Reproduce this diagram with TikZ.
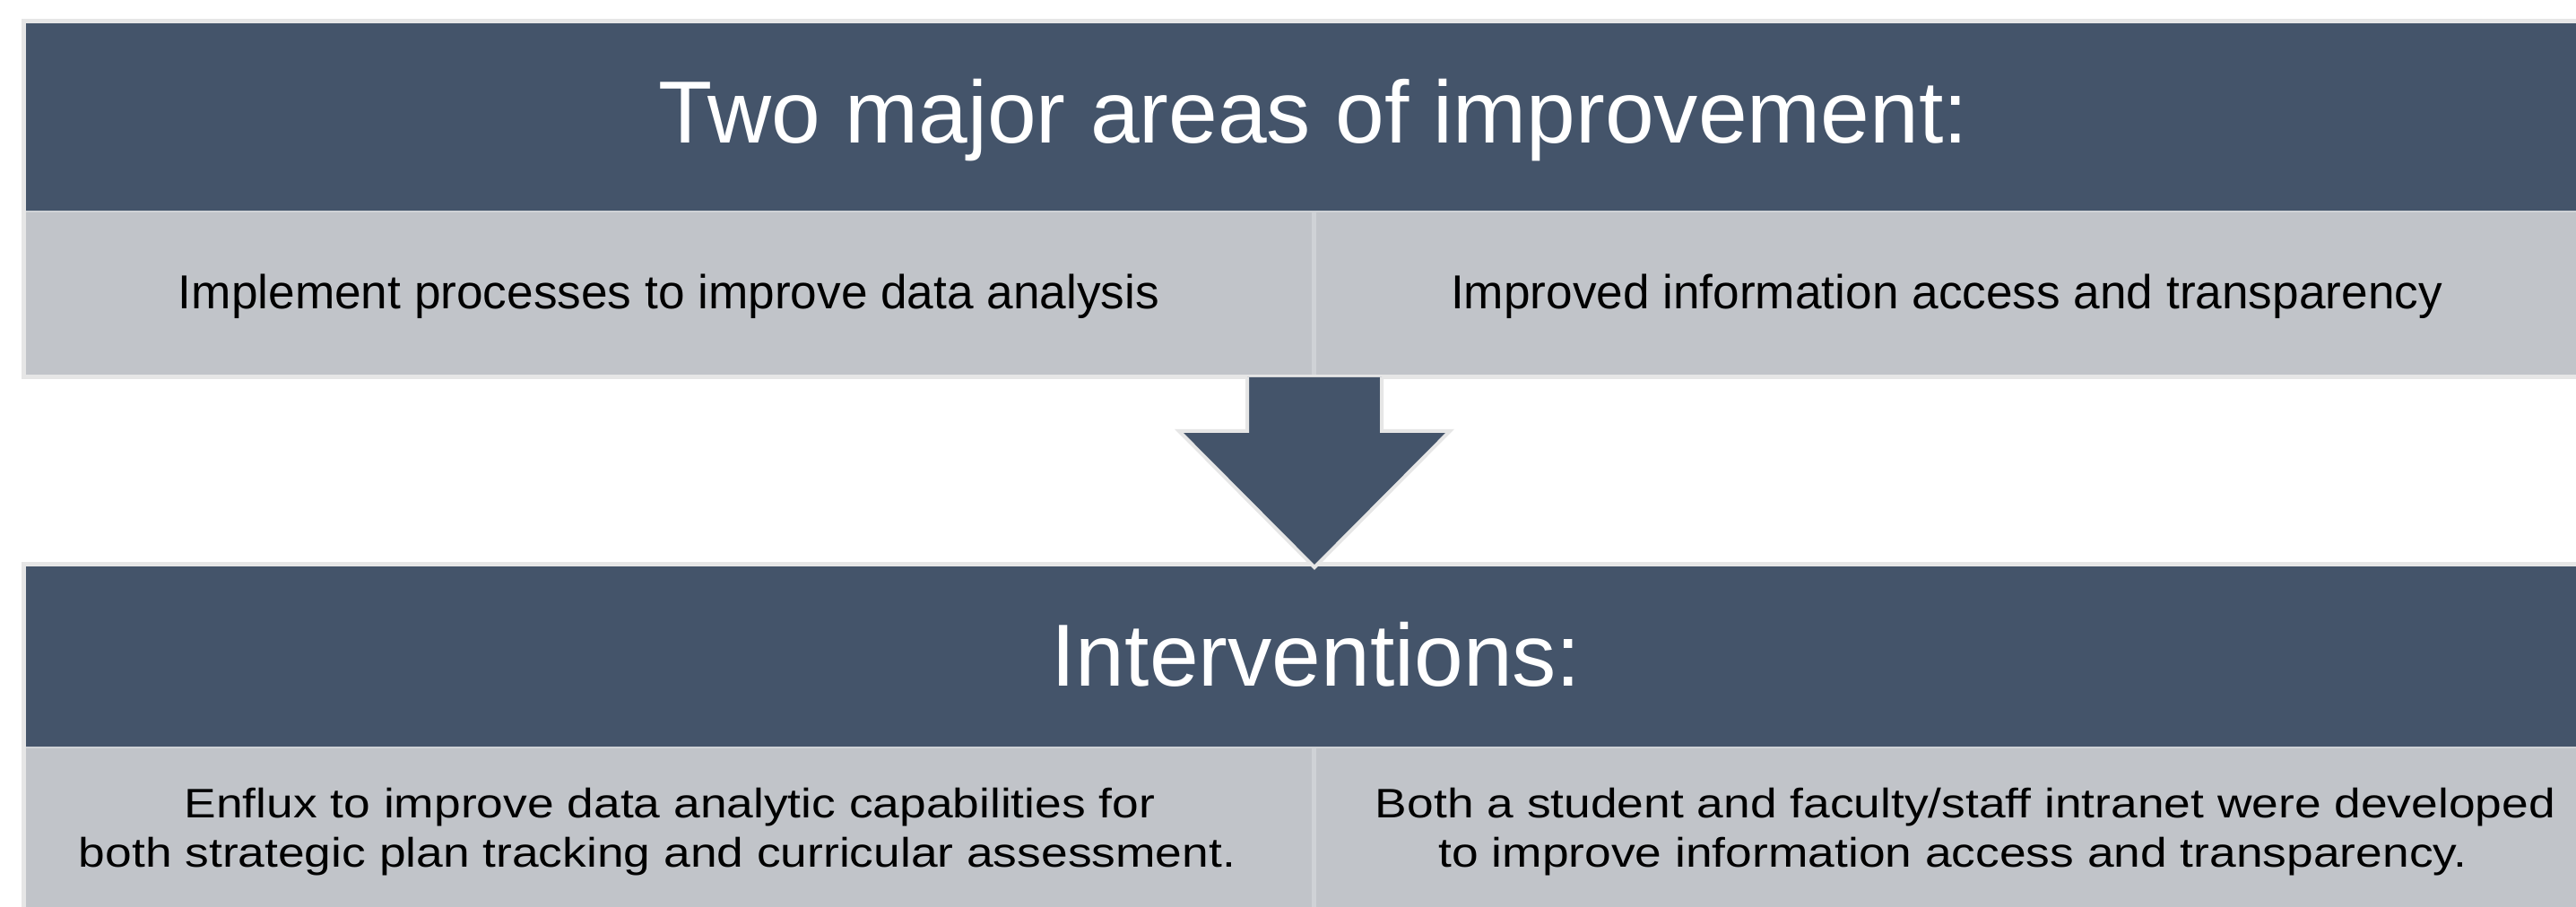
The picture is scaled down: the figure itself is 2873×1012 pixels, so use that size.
\documentclass[tikz,border=0pt]{standalone}
\usepackage{fontspec}
\setmainfont{Liberation Sans}
\newfontfamily\widesans[FakeStretch=1.16]{Liberation Sans}
\definecolor{slate}{HTML}{44546A}
\definecolor{cellgray}{HTML}{C1C4C9}
\definecolor{rim}{HTML}{E6E6E6}
\definecolor{seam}{HTML}{CFD2D6}
\begin{document}
\begin{tikzpicture}[x=0.25pt,y=-0.25pt,
  rimline/.style={draw=rim, line width=1.25pt},
  seamline/.style={draw=seam, line width=1.25pt},
  headtext/.style={inner sep=0pt, text=white, font=\fontsize{24.6pt}{29pt}\selectfont},
  celltext/.style={inner sep=0pt, text=black, font=\fontsize{13.3pt}{16pt}\selectfont},
  bodytext/.style={inner sep=0pt, text=black, align=center, font=\widesans\fontsize{11.5pt}{13.9pt}\selectfont}]
\useasboundingbox (0,0) rectangle (2873,1012);
\clip (0,0) rectangle (2873,1012);
\fill[white] (0,0) rectangle (2873,1012);

% upper block: header band over two cells
\path[rimline, fill=cellgray] (26.5,24) rectangle (2906,420.5);
\fill[slate] (29,26.5) rectangle (2903.5,235);
\draw[seam, line width=0.6pt] (29,236) -- (2903.5,236);
\draw[seamline] (1465.5,236) -- (1465.5,418);

% lower block: header band over two cells
\path[rimline, fill=cellgray] (26.5,629.5) rectangle (2906,1018);
\fill[slate] (29,632) rectangle (2903.5,833);
\draw[seam, line width=0.6pt] (29,834) -- (2903.5,834);
\draw[seamline] (1465.5,834) -- (1465.5,1015);

% block arrow between the two blocks
\fill[slate] (1391,421) -- (1391,481) -- (1315,481) -- (1466,633) -- (1617,481) -- (1541,481) -- (1541,421) -- cycle;
\draw[rim, line width=1pt, line join=miter] (1391,421) -- (1391,481) -- (1315,481) -- (1466,633) -- (1617,481) -- (1541,481) -- (1541,421);

% texts
\node[headtext, anchor=base] (areas) at (1465,160) {Two major areas of improvement:};
\node[celltext, anchor=base] (analysis) at (746,345) {Implement processes to improve data analysis};
\node[celltext, anchor=base] (access) at (2171,345) {Improved information access and transparency};
\node[headtext, anchor=base] (interv) at (1468,766) {Interventions:};
\node[bodytext, anchor=base] (enflux) at (740,968) {\hspace*{3.5pt}Enflux to improve data analytic capabilities for\\both strategic plan tracking and curricular assessment.\hspace*{3.5pt}};
\node[bodytext, anchor=base] (intranet) at (2185,968) {\hspace*{3.5pt}Both a student and faculty/staff intranet were developed\\to improve information access and transparency.\hspace*{3.5pt}};
\end{tikzpicture}
\end{document}
